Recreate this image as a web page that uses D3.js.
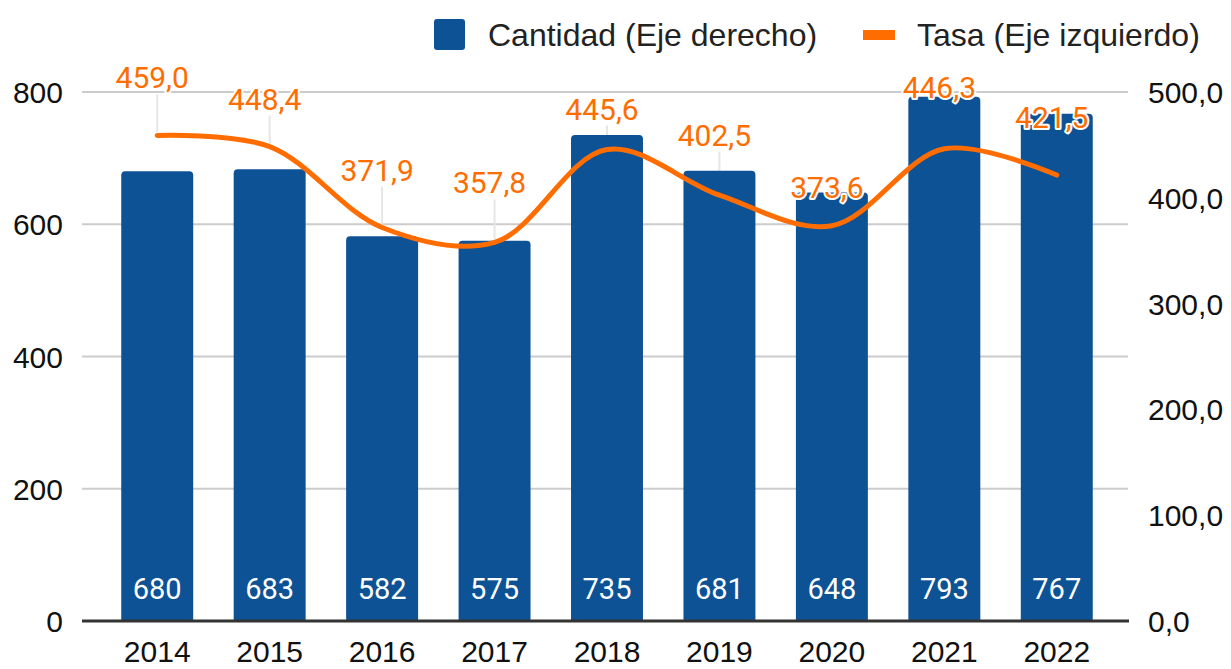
<!DOCTYPE html>
<html>
<head>
  <meta charset="utf-8">
  <style>
    body{ margin:0; background:#fff; }
    svg{ display:block; }
    .tick-label{ font-family:"Liberation Sans", Arial, sans-serif; font-size:30px; fill:#111; }
    .legend-label{ font-family:"Liberation Sans", Arial, sans-serif; font-size:32px; fill:#222; }
    .bar-label{ font-family:Roboto, sans-serif; font-size:29px; fill:#fff; }
    .rate-label{ font-family:Roboto, sans-serif; font-size:30px; fill:#ff6d01;
      stroke:#fff; stroke-width:4px; stroke-linejoin:round; paint-order:stroke; }
  </style>
  <script src="https://d3js.org/d3.v7.min.js"></script>
</head>
<body>
<div id="chart"></div>
<script>
const years = ['2014','2015','2016','2017','2018','2019','2020','2021','2022'];
const cantidad = [680, 683, 582, 575, 735, 681, 648, 793, 767];
const tasa = [459.0, 448.4, 371.9, 357.8, 445.6, 402.5, 373.6, 446.3, 421.5];
const leftTicks = [0, 200, 400, 600, 800];
const rightTicks = [0, 100, 200, 300, 400, 500];
// how far each rate label sits above its point (px), as placed in the original
const labelLift = [47, 37, 47, 49, 30, 49, 28, 51, 47];

const width = 1231, height = 669;
const blue = '#0e5296', orange = '#ff6d01';

const svg = d3.select('#chart').append('svg')
  .attr('width', width)
  .attr('height', height);

const x = d3.scaleBand()
  .domain(years)
  .range([101, 1113])
  .paddingInner(0.36)
  .paddingOuter(0.18);

const yLeft = d3.scaleLinear().domain([0, 800]).range([621, 92]);
const yRight = d3.scaleLinear().domain([0, 500]).range([621, 92]);
const cx = d => x(d) + x.bandwidth() / 2;

// gridlines
svg.append('g').selectAll('line')
  .data(leftTicks.filter(d => d > 0))
  .join('line')
  .attr('x1', 82).attr('x2', 1128)
  .attr('y1', d => yLeft(d)).attr('y2', d => yLeft(d))
  .attr('stroke', '#cccccc').attr('stroke-width', 2);

// left axis labels
svg.append('g').selectAll('text')
  .data(leftTicks)
  .join('text')
  .attr('class', 'tick-label')
  .attr('x', 63)
  .attr('y', d => yLeft(d) + 11)
  .attr('text-anchor', 'end')
  .text(d => d);

// right axis labels
const fmt1 = d => d3.format('.1f')(d).replace('.', ',');
svg.append('g').selectAll('text')
  .data(rightTicks)
  .join('text')
  .attr('class', 'tick-label')
  .attr('x', 1148)
  .attr('y', d => yRight(d) + 11)
  .text(d => fmt1(d));

// leader lines from labels to points (under the bars)
svg.append('g').selectAll('line')
  .data(years)
  .join('line')
  .attr('x1', cx).attr('x2', cx)
  .attr('y1', (d, i) => yRight(tasa[i]) - labelLift[i] + 6)
  .attr('y2', (d, i) => yRight(tasa[i]) - 3)
  .attr('stroke', '#e6e6e6').attr('stroke-width', 2);

// bars with rounded tops
const r = 4;
svg.append('g').selectAll('path')
  .data(years)
  .join('path')
  .attr('fill', blue)
  .attr('d', (d, i) => {
    const x0 = x(d), x1 = x(d) + x.bandwidth();
    const y0 = yLeft(0), y1 = yLeft(cantidad[i]);
    return `M${x0},${y0}V${y1 + r}Q${x0},${y1} ${x0 + r},${y1}H${x1 - r}Q${x1},${y1} ${x1},${y1 + r}V${y0}Z`;
  });

// bar labels
svg.append('g').selectAll('text')
  .data(years)
  .join('text')
  .attr('class', 'bar-label')
  .attr('x', cx)
  .attr('y', 599)
  .attr('text-anchor', 'middle')
  .text((d, i) => cantidad[i]);

// baseline
svg.append('line')
  .attr('x1', 82).attr('x2', 1129)
  .attr('y1', yLeft(0)).attr('y2', yLeft(0))
  .attr('stroke', '#333').attr('stroke-width', 3);

// rate line
const line = d3.line()
  .x((d, i) => cx(years[i]))
  .y(d => yRight(d))
  .curve(d3.curveCatmullRom.alpha(0.5));

svg.append('path')
  .datum(tasa)
  .attr('fill', 'none')
  .attr('stroke', orange)
  .attr('stroke-width', 5)
  .attr('stroke-linecap', 'round')
  .attr('d', line);

// rate labels
svg.append('g').selectAll('text')
  .data(years)
  .join('text')
  .attr('class', 'rate-label')
  .attr('x', d => cx(d) - 5)
  .attr('y', (d, i) => yRight(tasa[i]) - labelLift[i])
  .attr('text-anchor', 'middle')
  .text((d, i) => fmt1(tasa[i]));

// x axis labels
svg.append('g').selectAll('text')
  .data(years)
  .join('text')
  .attr('class', 'tick-label')
  .attr('x', cx)
  .attr('y', 662)
  .attr('text-anchor', 'middle')
  .style('font-size', '30px')
  .text(d => d);

// legend
const legend = svg.append('g');
legend.append('rect')
  .attr('x', 434).attr('y', 19).attr('width', 31).attr('height', 31)
  .attr('rx', 3).attr('fill', blue);
legend.append('text')
  .attr('class', 'legend-label')
  .attr('x', 488).attr('y', 46)
  .text('Cantidad (Eje derecho)');
legend.append('rect')
  .attr('x', 863).attr('y', 30).attr('width', 32).attr('height', 10)
  .attr('fill', orange);
legend.append('text')
  .attr('class', 'legend-label')
  .attr('x', 917).attr('y', 46)
  .text('Tasa (Eje izquierdo)');
</script>
</body>
</html>
